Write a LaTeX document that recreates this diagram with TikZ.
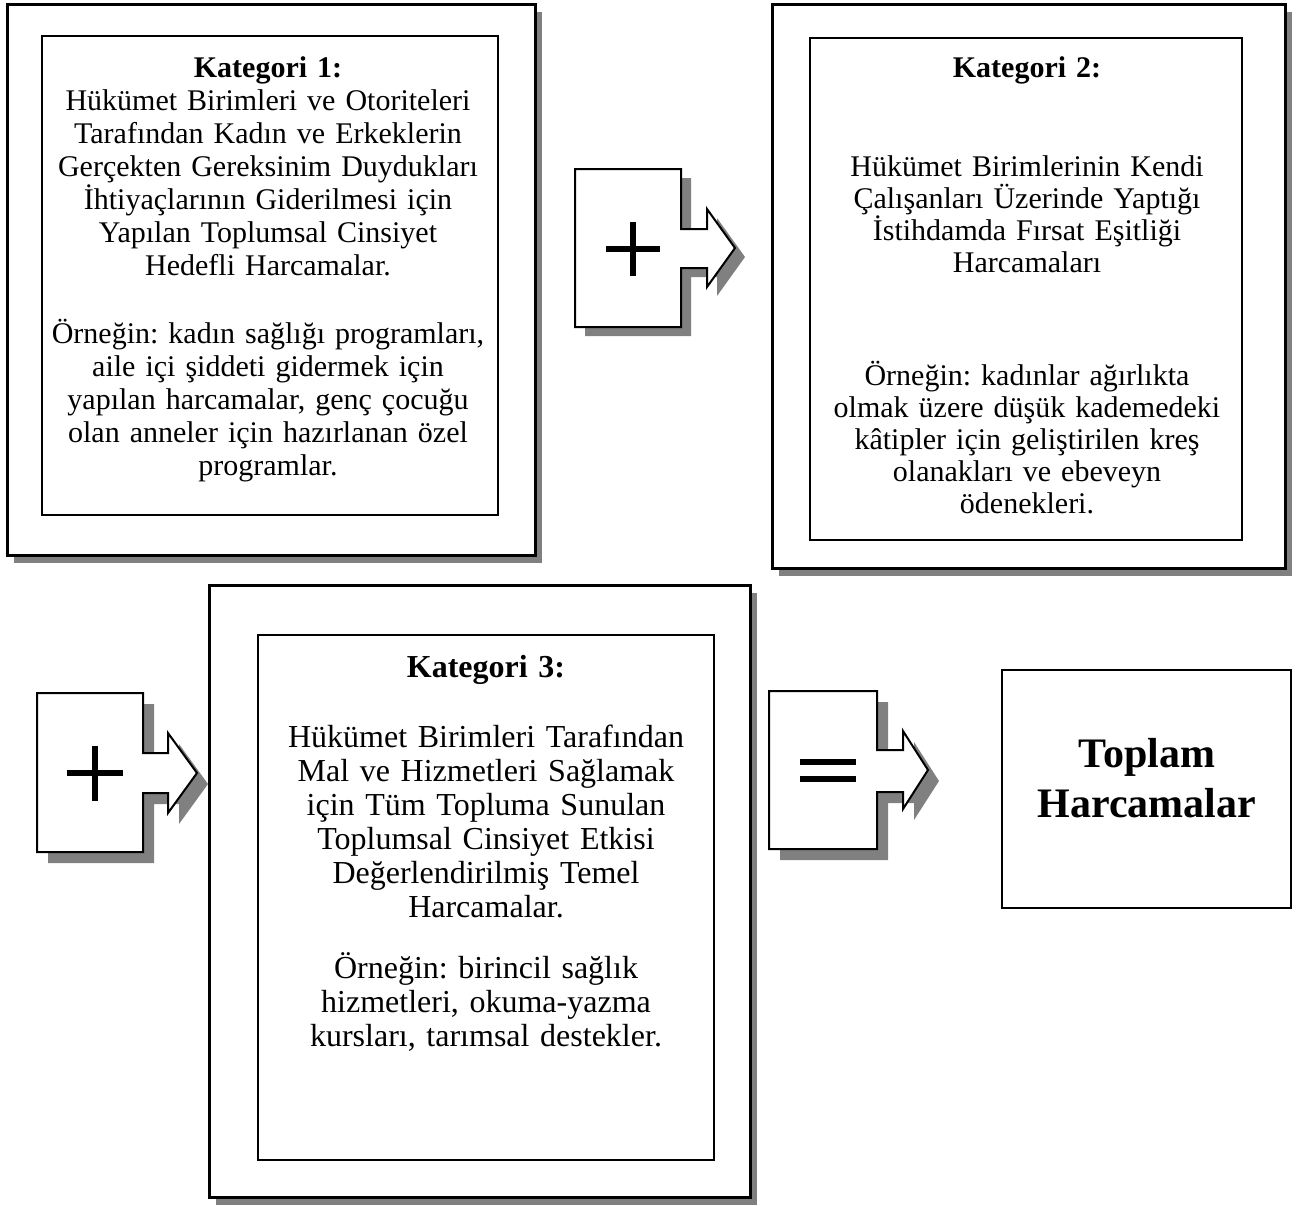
\documentclass[tikz,border=0pt]{standalone}
\usepackage{fontspec}
\setmainfont{Liberation Serif}
\definecolor{shade}{HTML}{808080}
\begin{document}
\frenchspacing
\begin{tikzpicture}[x=0.5pt,y=-0.5pt,
  outerbox/.style={draw=black,line width=1.5pt,fill=white},
  innerbox/.style={draw=black,line width=1pt,fill=white},
  shadowfill/.style={fill=shade,draw=none},
  arrowshape/.style={draw=black,line width=1pt,fill=white,line join=miter},
  sign/.style={line width=2.6pt,line cap=butt},
  txt/.style={anchor=base,align=center,inner sep=0pt,text width=225pt,font=\frenchspacing\fontsize{15pt}{16pt}\selectfont},
  txta/.style={anchor=base,align=center,inner sep=0pt,text width=225pt,font=\frenchspacing\fontsize{15pt}{16.5pt}\selectfont},
  txtb/.style={anchor=base,align=center,inner sep=0pt,text width=225pt,font=\frenchspacing\fontsize{16pt}{17pt}\selectfont},
  big/.style={anchor=base,align=center,inner sep=0pt,text width=140pt,font=\fontsize{21pt}{25pt}\selectfont\bfseries}]
\useasboundingbox (0,0) rectangle (1300,1205);

% ---------- Box 1 ----------
\fill[shadowfill] (14,12) rectangle (542,563);
\draw[outerbox] (7,4) rectangle (535,555);
\draw[innerbox] (42,36) rectangle (498,515);
\node[txta] (k1) at (268,77) {\textbf{Kategori 1:}\\Hükümet Birimleri ve Otoriteleri\\Tarafından Kadın ve Erkeklerin\\Gerçekten Gereksinim Duydukları\\İhtiyaçlarının Giderilmesi için\\Yapılan Toplumsal Cinsiyet\\Hedefli Harcamalar.};
\node[txta] (k1ex) at (268,343) {Örneğin: kadın sağlığı programları,\\aile içi şiddeti gidermek için\\yapılan harcamalar, genç çocuğu\\olan anneler için hazırlanan özel\\programlar.};

% ---------- Box 2 ----------
\fill[shadowfill] (779,12) rectangle (1292,576);
\draw[outerbox] (772,4) rectangle (1285,568);
\draw[innerbox] (810,38) rectangle (1242,540);
\node[txt] (k2h) at (1027,77) {\textbf{Kategori 2:}};
\node[txt] (k2) at (1027,176) {Hükümet Birimlerinin Kendi\\Çalışanları Üzerinde Yaptığı\\İstihdamda Fırsat Eşitliği\\Harcamaları};
\node[txt] (k2ex) at (1027,385) {Örneğin: kadınlar ağırlıkta\\olmak üzere düşük kademedeki\\kâtipler için geliştirilen kreş\\olanakları ve ebeveyn\\ödenekleri.};

% ---------- Box 3 ----------
\fill[shadowfill] (216,593) rectangle (757,1205);
\draw[outerbox] (209,585) rectangle (750,1197);
\draw[innerbox] (258,635) rectangle (714,1160);
\node[txtb] (k3h) at (486,677) {\textbf{Kategori 3:}};
\node[txtb] (k3) at (486,747) {Hükümet Birimleri Tarafından\\Mal ve Hizmetleri Sağlamak\\için Tüm Topluma Sunulan\\Toplumsal Cinsiyet Etkisi\\Değerlendirilmiş Temel\\Harcamalar.};
\node[txtb] (k3ex) at (486,978) {Örneğin: birincil sağlık\\hizmetleri, okuma-yazma\\kursları, tarımsal destekler.};

% ---------- Total box ----------
\draw[innerbox] (1002,670) rectangle (1291,908);
\node[big] (total) at (1147,767) {Toplam\\Harcamalar};

% ---------- Arrow 1 (plus) ----------
\fill[shadowfill,shift={(10,9)}] (575,169) -- (681,169) -- (681,229) -- (707,229) -- (707,209) -- (735,248) -- (707,287) -- (707,268) -- (681,268) -- (681,327) -- (575,327) -- cycle;
\draw[arrowshape] (575,169) -- (681,169) -- (681,229) -- (707,229) -- (707,209) -- (735,248) -- (707,287) -- (707,268) -- (681,268) -- (681,327) -- (575,327) -- cycle;
\draw[sign] (606,249) -- (660,249);
\draw[sign] (633,222) -- (633,276);

% ---------- Arrow 2 (plus) ----------
\fill[shadowfill,shift={(11,11)}] (37,693) -- (143,693) -- (143,753) -- (168,753) -- (168,733) -- (197,773) -- (168,813) -- (168,793) -- (143,793) -- (143,852) -- (37,852) -- cycle;
\draw[arrowshape] (37,693) -- (143,693) -- (143,753) -- (168,753) -- (168,733) -- (197,773) -- (168,813) -- (168,793) -- (143,793) -- (143,852) -- (37,852) -- cycle;
\draw[sign] (67,773) -- (123,773);
\draw[sign] (95,746) -- (95,801);

% ---------- Arrow 3 (equals) ----------
\fill[shadowfill,shift={(11,11)}] (769,691) -- (877,691) -- (877,750) -- (903,750) -- (903,731) -- (928,770) -- (903,809) -- (903,792) -- (877,792) -- (877,849) -- (769,849) -- cycle;
\draw[arrowshape] (769,691) -- (877,691) -- (877,750) -- (903,750) -- (903,731) -- (928,770) -- (903,809) -- (903,792) -- (877,792) -- (877,849) -- (769,849) -- cycle;
\draw[sign] (800,762) -- (856,762);
\draw[sign] (800,779) -- (856,779);
\end{tikzpicture}
\end{document}
